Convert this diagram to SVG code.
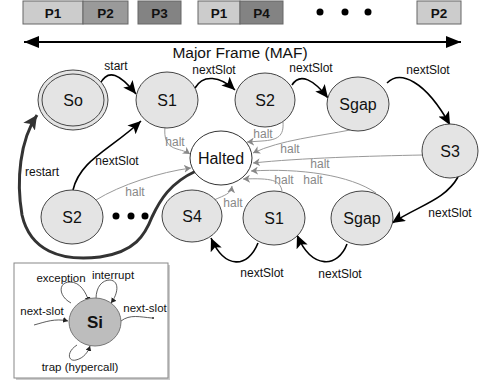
<svg xmlns="http://www.w3.org/2000/svg" width="480" height="383" viewBox="0 0 480 383">
<defs>
<style>
.box{stroke:#666;stroke-width:1}
.pl{font-family:"Liberation Sans",Arial,sans-serif;font-weight:bold;font-size:13.5px;fill:#111;text-anchor:middle}
.node{fill:#e4e4e4;stroke:#444;stroke-width:1}
.nl{font-family:"Liberation Sans",Arial,sans-serif;font-size:16px;fill:#111;text-anchor:middle}
.el{font-family:"Liberation Sans",Arial,sans-serif;font-size:12px;fill:#111;text-anchor:middle}
.hl{font-family:"Liberation Sans",Arial,sans-serif;font-size:12px;fill:#888;text-anchor:middle}
.il{font-family:"Liberation Sans",Arial,sans-serif;font-size:11.5px;fill:#111;text-anchor:middle}
.blk{fill:none;stroke:#000;stroke-width:1.6;marker-end:url(#ab)}
.gry{fill:none;stroke:#999;stroke-width:1;marker-end:url(#ag)}
.thin{fill:none;stroke:#333;stroke-width:0.8;marker-end:url(#at)}
</style>
<marker id="ab" markerUnits="userSpaceOnUse" markerWidth="14" markerHeight="12" refX="13" refY="6" orient="auto"><path d="M0,0 L13,6 L0,12 L3,6 z" fill="#000"/></marker>
<marker id="ag" markerUnits="userSpaceOnUse" markerWidth="8" markerHeight="8" refX="7" refY="4" orient="auto"><path d="M0,0 L7,4 L0,8 L2,4 z" fill="#888"/></marker>
<marker id="at" markerUnits="userSpaceOnUse" markerWidth="6" markerHeight="6" refX="5" refY="3" orient="auto"><path d="M0,0 L5,3 L0,6 z" fill="#222"/></marker>
<marker id="ar" markerUnits="userSpaceOnUse" markerWidth="16" markerHeight="14" refX="14" refY="7" orient="auto"><path d="M0,0 L14,7 L0,14 L3,7 z" fill="#333"/></marker>
<marker id="bigE" markerUnits="userSpaceOnUse" markerWidth="16" markerHeight="12" refX="15" refY="6" orient="auto"><path d="M0,0 L15,6 L0,12 z" fill="#000"/></marker>
<marker id="bigS" markerUnits="userSpaceOnUse" markerWidth="16" markerHeight="12" refX="0" refY="6" orient="auto"><path d="M15,0 L0,6 L15,12 z" fill="#000"/></marker>
</defs>

<g id="timeline">
<rect class="box" x="23" y="1" width="60" height="23" fill="#cccccc"/>
<text class="pl" x="53" y="18">P1</text>
<rect class="box" x="83" y="1" width="45" height="23" fill="#9a9a9a"/>
<text class="pl" x="105.5" y="18">P2</text>
<rect class="box" x="138" y="1" width="43" height="23" fill="#838383"/>
<text class="pl" x="159.5" y="18">P3</text>
<rect class="box" x="198" y="1" width="42" height="23" fill="#cccccc"/>
<text class="pl" x="219" y="18">P1</text>
<rect class="box" x="240" y="1" width="43" height="23" fill="#838383"/>
<text class="pl" x="261.5" y="18">P4</text>
<circle cx="320" cy="12" r="3.5" fill="#000"/>
<circle cx="345" cy="12" r="3.5" fill="#000"/>
<circle cx="368" cy="12" r="3.5" fill="#000"/>
<rect class="box" x="417" y="1" width="44" height="23" fill="#cccccc"/>
<text class="pl" x="439" y="18">P2</text>
<line x1="24" y1="42" x2="461" y2="42" stroke="#000" stroke-width="2" marker-start="url(#bigS)" marker-end="url(#bigE)"/>
<text x="240" y="58" font-family="Liberation Sans, Arial, sans-serif" font-size="15.5" text-anchor="middle" fill="#111">Major Frame (MAF)</text>
</g>

<g id="connectors">
<path class="gry" d="M165,127 C164,138 166,146 177,149 C184,151 187,152 190,154"/>
<path class="gry" d="M283,122 C284,136 278,140 262,141 L247,142"/>
<path class="gry" d="M350,130 C320,136 280,140 253,153"/>
<path class="gry" d="M423,155 C370,156 300,158 253,163"/>
<path class="gry" d="M376,193 C350,175 300,168 251,171"/>
<path class="gry" d="M282,191 C280,180 272,178 243,179"/>
<path class="gry" d="M214,200 C225,195 231,194 232,186"/>
<path class="gry" d="M96,200 C120,185 160,172 191,168"/>
<path class="blk" d="M100,84 C108,68 120,74 136,94"/>
<path class="blk" d="M195,88 C203,74 220,76 235,90"/>
<path class="blk" d="M292,85 C300,72 314,80 328,98"/>
<path class="blk" d="M387,83 C400,70 425,80 450,125"/>
<path class="blk" d="M458,177 C445,200 420,205 392,223"/>
<path class="blk" d="M347,244 C338,268 312,270 297,235"/>
<path class="blk" d="M258,243 C248,268 225,270 211,238"/>
<path class="blk" d="M73,190 C80,160 110,150 141,121"/>
<path d="M196,171 C170,183 160,200 152,217 C145,235 135,252 100,257 C60,262 30,250 22,215 C16,180 20,140 37,115" fill="none" stroke="#333" stroke-width="3" marker-end="url(#ar)"/>
<text class="el" x="116" y="70">start</text>
<text class="el" x="214" y="74">nextSlot</text>
<text class="el" x="311" y="72">nextSlot</text>
<text class="el" x="428" y="74">nextSlot</text>
<text class="el" x="450" y="217">nextSlot</text>
<text class="el" x="340" y="278">nextSlot</text>
<text class="el" x="262" y="277">nextSlot</text>
<text class="el" x="117" y="165">nextSlot</text>
<text class="el" x="42" y="176">restart</text>
<text class="hl" x="175" y="146">halt</text>
<text class="hl" x="263" y="138">halt</text>
<text class="hl" x="290" y="153">halt</text>
<text class="hl" x="320" y="168">halt</text>
<text class="hl" x="313" y="184">halt</text>
<text class="hl" x="284" y="184">halt</text>
<text class="hl" x="233" y="207">halt</text>
<text class="hl" x="135" y="196">halt</text>
</g>

<g id="node-So">
<ellipse class="node" cx="73" cy="100" rx="35" ry="30"/>
<ellipse class="node" cx="73" cy="100" rx="31" ry="26"/>
<text class="nl" x="73" y="106">So</text>
</g>
<g id="node-S1-top">
<ellipse class="node" cx="167" cy="100" rx="31" ry="28"/>
<text class="nl" x="167" y="106">S1</text>
</g>
<g id="node-S2-top">
<ellipse class="node" cx="265" cy="100" rx="30" ry="27"/>
<text class="nl" x="265" y="106">S2</text>
</g>
<g id="node-Sgap-top">
<ellipse class="node" cx="358" cy="104" rx="31" ry="27"/>
<text class="nl" x="358" y="110">Sgap</text>
</g>
<g id="node-S3">
<ellipse class="node" cx="450" cy="151" rx="28" ry="27"/>
<text class="nl" x="450" y="157">S3</text>
</g>
<g id="node-Halted">
<ellipse cx="221" cy="158" rx="31" ry="27" fill="#fff" stroke="#333" stroke-width="1"/>
<text class="nl" x="221" y="164">Halted</text>
</g>
<g id="node-S2-bottom">
<ellipse class="node" cx="72" cy="217" rx="31" ry="27"/>
<text class="nl" x="72" y="223">S2</text>
</g>
<g id="dots">
<circle cx="116" cy="216" r="3.5" fill="#000"/>
<circle cx="131" cy="216" r="3.5" fill="#000"/>
<circle cx="145" cy="216" r="3.5" fill="#000"/>
</g>
<g id="node-S4">
<ellipse class="node" cx="192" cy="216" rx="30" ry="26"/>
<text class="nl" x="192" y="222">S4</text>
</g>
<g id="node-S1-bottom">
<ellipse class="node" cx="274" cy="218" rx="31" ry="27"/>
<text class="nl" x="274" y="224">S1</text>
</g>
<g id="node-Sgap-bottom">
<ellipse class="node" cx="362" cy="218" rx="31" ry="27"/>
<text class="nl" x="362" y="224">Sgap</text>
</g>

<g id="inset">
<rect x="16" y="265" width="154" height="115" fill="#ccc"/>
<rect x="14" y="263" width="154" height="115" fill="#fff" stroke="#888" stroke-width="1"/>
<path class="thin" d="M71,303 C58,296 58,282 70,282 C80,282 86,292 89,302"/>
<path class="thin" d="M96,299 C96,287 102,280 110,280 C120,281 118,294 111,303"/>
<path class="thin" d="M77,345 C66,352 68,362 76,360 C84,358 88,352 90,346"/>
<path class="thin" d="M34,325 C45,322 55,318 68,321"/>
<path fill="none" stroke="#333" stroke-width="0.8" d="M121,321 C130,314 140,317 152,318"/>
<circle cx="153" cy="318" r="1" fill="#222"/>
<ellipse cx="95" cy="322" rx="26" ry="24" fill="#bdbdbd" stroke="#777" stroke-width="1"/>
<text x="95" y="328" font-family="Liberation Sans, Arial, sans-serif" font-weight="bold" font-size="17" text-anchor="middle" fill="#111">Si</text>
<text class="il" x="61" y="282">exception</text>
<text class="il" x="113" y="279">interrupt</text>
<text class="il" x="42" y="315">next-slot</text>
<text class="il" x="145" y="312">next-slot</text>
<text class="il" x="80" y="371">trap (hypercall)</text>
</g>
</svg>
